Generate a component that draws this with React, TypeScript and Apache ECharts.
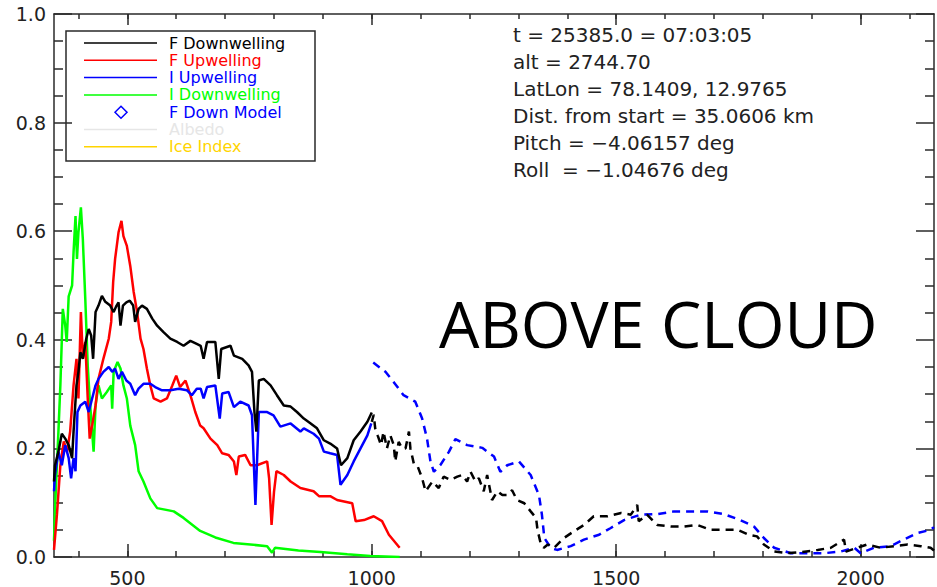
import React, { useEffect, useRef } from "react";
import * as echarts from "echarts";

// ---------- data ----------
const fDownwelling: [number, number][] = [
  [350,0.139],[352,0.169],[359,0.194],[366,0.227],[373,0.218],[380,0.206],[387,0.182],[390,0.231],[396,0.316],[400,0.341],
  [404,0.377],[409,0.365],[416,0.402],[421,0.42],[426,0.408],[430,0.365],[435,0.451],[441,0.463],[448,0.481],[455,0.47],
  [465,0.463],[472,0.451],[478,0.463],[482,0.469],[486,0.426],[491,0.463],[498,0.469],[505,0.472],[512,0.463],[516,0.433],
  [523,0.457],[530,0.463],[540,0.457],[551,0.439],[561,0.426],[574,0.414],[588,0.402],[602,0.396],[615,0.389],[629,0.398],
  [643,0.392],[650,0.389],[656,0.365],[663,0.396],[680,0.396],[687,0.328],[692,0.383],[711,0.389],[718,0.371],[735,0.365],
  [748,0.353],[755,0.341],[760,0.267],[764,0.231],[769,0.325],[779,0.328],[793,0.316],[806,0.298],[820,0.279],[834,0.277],
  [847,0.267],[861,0.255],[875,0.246],[888,0.237],[902,0.215],[915,0.209],[929,0.2],[937,0.169],[950,0.182],[963,0.215],
  [977,0.231],[991,0.249],[1000,0.266]
];
const fDownwellingNir: [number, number][] = [
  [1000,0.249],[1004,0.262],[1007,0.237],[1012,0.224],[1019,0.206],[1024,0.231],[1031,0.2],[1038,0.224],[1045,0.206],[1048,0.176],
  [1055,0.212],[1062,0.2],[1069,0.2],[1076,0.231],[1079,0.2],[1086,0.172],[1093,0.169],[1103,0.145],[1110,0.121],[1124,0.139],
  [1137,0.127],[1147,0.148],[1161,0.142],[1175,0.148],[1185,0.151],[1195,0.139],[1202,0.157],[1212,0.139],[1219,0.145],[1229,0.121],
  [1236,0.151],[1246,0.105],[1257,0.121],[1267,0.114],[1277,0.114],[1287,0.123],[1297,0.105],[1312,0.099],[1325,0.084],[1336,0.072],
  [1339,0.05],[1346,0.023],[1352,0.017],[1360,0.023],[1373,0.017],[1393,0.035],[1413,0.047],[1434,0.059],[1454,0.075],[1482,0.075],
  [1510,0.081],[1530,0.078],[1543,0.096],[1546,0.066],[1563,0.078],[1584,0.059],[1612,0.056],[1638,0.056],[1666,0.059],[1693,0.05],
  [1720,0.05],[1748,0.05],[1771,0.041],[1788,0.038],[1802,0.023],[1823,0.01],[1850,0.007],[1878,0.009],[1912,0.013],[1939,0.017],
  [1966,0.032],[1970,0.01],[2013,0.023],[2041,0.017],[2068,0.02],[2096,0.023],[2123,0.02],[2143,0.017],[2150,0.012]
];
const fUpwelling: [number, number][] = [
  [350,0.013],[356,0.078],[363,0.169],[370,0.213],[377,0.194],[383,0.231],[390,0.316],[396,0.365],[400,0.292],[405,0.451],
  [409,0.365],[414,0.396],[419,0.292],[423,0.218],[428,0.242],[435,0.279],[441,0.328],[451,0.365],[462,0.402],[467,0.433],
  [471,0.506],[475,0.549],[482,0.598],[488,0.619],[492,0.591],[499,0.573],[506,0.536],[513,0.488],[520,0.451],[527,0.402],
  [533,0.383],[540,0.347],[547,0.316],[554,0.292],[568,0.286],[581,0.292],[592,0.316],[600,0.334],[608,0.313],[619,0.325],
  [629,0.298],[639,0.267],[649,0.242],[656,0.237],[670,0.218],[684,0.206],[694,0.191],[707,0.188],[718,0.176],[723,0.151],
  [728,0.185],[741,0.188],[752,0.169],[765,0.169],[786,0.176],[790,0.145],[795,0.059],[800,0.12],[805,0.158],[820,0.151],
  [834,0.139],[854,0.127],[881,0.121],[892,0.112],[915,0.112],[929,0.105],[960,0.099],[967,0.066],[984,0.068],[1004,0.075],
  [1021,0.066],[1035,0.041],[1057,0.017]
];
const iUpwelling: [number, number][] = [
  [350,0.121],[352,0.151],[359,0.194],[366,0.169],[373,0.206],[380,0.182],[385,0.145],[390,0.182],[394,0.158],[398,0.267],
  [404,0.279],[414,0.286],[421,0.267],[428,0.292],[435,0.316],[441,0.328],[451,0.341],[462,0.35],[469,0.341],[475,0.347],
  [482,0.328],[489,0.341],[498,0.325],[506,0.319],[516,0.298],[523,0.31],[533,0.319],[547,0.319],[557,0.313],[571,0.307],
  [588,0.307],[605,0.31],[622,0.307],[632,0.298],[642,0.31],[650,0.31],[656,0.292],[663,0.313],[680,0.316],[689,0.255],
  [694,0.301],[707,0.304],[718,0.276],[731,0.286],[748,0.279],[755,0.261],[762,0.096],[769,0.267],[786,0.267],[799,0.261],
  [813,0.24],[834,0.246],[854,0.231],[861,0.237],[881,0.227],[892,0.218],[902,0.194],[915,0.191],[929,0.188],[936,0.133],
  [950,0.151],[963,0.176],[977,0.2],[991,0.224],[999,0.246]
];
const iUpwellingNir: [number, number][] = [
  [1003,0.358],[1028,0.341],[1045,0.322],[1065,0.298],[1089,0.286],[1103,0.255],[1113,0.218],[1120,0.176],[1127,0.157],[1140,0.169],
  [1158,0.194],[1171,0.217],[1195,0.206],[1226,0.201],[1250,0.185],[1263,0.157],[1277,0.169],[1301,0.176],[1325,0.151],[1342,0.114],
  [1348,0.078],[1353,0.035],[1366,0.017],[1379,0.013],[1407,0.02],[1434,0.032],[1465,0.041],[1488,0.053],[1516,0.068],[1550,0.078],
  [1584,0.079],[1618,0.084],[1652,0.084],[1686,0.084],[1720,0.079],[1754,0.068],[1782,0.056],[1802,0.035],[1823,0.017],[1857,0.007],
  [1891,0.007],[1925,0.007],[1959,0.01],[1987,0.017],[2000,0.007],[2027,0.017],[2061,0.02],[2088,0.032],[2116,0.044],[2143,0.05],
  [2150,0.055]
];
const iDownwelling: [number, number][] = [
  [350,0.03],[353,0.108],[359,0.23],[363,0.316],[366,0.4],[368,0.457],[373,0.426],[376,0.396],[380,0.48],[387,0.5],
  [390,0.561],[394,0.628],[397,0.549],[400,0.598],[405,0.644],[409,0.585],[414,0.475],[419,0.352],[423,0.292],[428,0.231],
  [431,0.194],[435,0.279],[441,0.316],[448,0.292],[458,0.304],[467,0.316],[469,0.273],[472,0.341],[480,0.359],[486,0.347],
  [492,0.316],[499,0.292],[506,0.242],[516,0.206],[523,0.158],[533,0.139],[547,0.108],[561,0.09],[595,0.084],[615,0.072],
  [649,0.048],[680,0.036],[717,0.026],[786,0.02],[796,0.008],[802,0.017],[850,0.012],[895,0.009],[950,0.005],[997,0.002],
  [1057,0.0]
];

const legendNames = ["F Downwelling", "F Upwelling", "I Upwelling", "I Downwelling", "F Down Model", "Albedo", "Ice Index"];
const legendColors = ["#000000", "#ff0000", "#0000ff", "#00ff00", "#0000ff", "#e6e6e6", "#ffd400"];
const infoLines = [
  "t = 25385.0 = 07:03:05",
  "alt = 2744.70",
  "LatLon = 78.1409, 12.9765",
  "Dist. from start = 35.0606 km",
  "Pitch = −4.06157 deg",
  "Roll  = −1.04676 deg",
];
const xMajor = [500, 1000, 1500, 2000];
const xMinor = [400, 500, 600, 700, 800, 900, 1000, 1100, 1200, 1300, 1400, 1500, 1600, 1700, 1800, 1900, 2000, 2100];
const stampText = "ABOVE CLOUD";

const FONT = "DejaVu Sans";
const AX = "#2a2a2a";

export default function App() {
  const ref = useRef<HTMLDivElement>(null);
  useEffect(() => {
    if (!ref.current) return;
    const chart = echarts.init(ref.current, null, { renderer: "svg" });

    const xBase = { type: "value", min: 350, max: 2150, splitLine: { show: false }, gridIndex: 0 };
    const xAxes = [
      {
        ...xBase, position: "bottom",
        axisLine: { show: true, lineStyle: { color: AX, width: 1.5 } },
        axisTick: { show: true, inside: true, length: 13, customValues: xMajor, lineStyle: { color: AX, width: 1.5 } },
        axisLabel: {
          show: true, customValues: xMajor, margin: 11, fontFamily: FONT, fontSize: 19, color: "#222",
          formatter: (v: number) => String(v),
        },
      },
      {
        ...xBase, position: "bottom",
        axisLine: { show: false },
        axisTick: { show: true, inside: true, length: 6, customValues: xMinor, lineStyle: { color: AX, width: 1.5 } },
        axisLabel: { show: false },
      },
      {
        ...xBase, position: "top",
        axisLine: { show: true, lineStyle: { color: AX, width: 1.5 } },
        axisTick: { show: true, inside: true, length: 11, customValues: xMajor, lineStyle: { color: AX, width: 1.5 } },
        axisLabel: { show: false },
      },
      {
        ...xBase, position: "top",
        axisLine: { show: false },
        axisTick: { show: true, inside: true, length: 5, customValues: xMinor, lineStyle: { color: AX, width: 1.5 } },
        axisLabel: { show: false },
      },
    ];
    const yBase = {
      type: "value", min: 0, max: 1, interval: 0.2, splitLine: { show: false },
      axisLine: { show: true, lineStyle: { color: AX, width: 1.5 } },
      axisTick: { show: true, inside: true, length: 18, lineStyle: { color: AX, width: 1.5 } },
      minorTick: { show: true, splitNumber: 4, length: 9, lineStyle: { color: AX, width: 1.5 } },
    };
    const yAxes = [
      {
        ...yBase, position: "left",
        axisLabel: { show: true, margin: 8, fontFamily: FONT, fontSize: 19, color: "#222", formatter: (v: number) => v.toFixed(1) },
      },
      { ...yBase, position: "right", axisLabel: { show: false } },
    ];

    const line = (name: string, data: [number, number][], color: string, dashed = false) => ({
      name, type: "line", data, xAxisIndex: 0, yAxisIndex: 0, showSymbol: false, symbol: "none",
      lineStyle: { color, width: 2.5, type: dashed ? [8, 6] : "solid" },
      itemStyle: { color }, z: 3,
    });

    const graphics: any[] = [];
    graphics.push({
      type: "rect", shape: { x: 66, y: 31, width: 249, height: 130 },
      style: { fill: "none", stroke: AX, lineWidth: 1.5 }, z: 10,
    });
    legendNames.forEach((nm, i) => {
      const cy = 43 + i * 17.3;
      if (nm === "F Down Model") {
        graphics.push({
          type: "polygon", shape: { points: [[121, cy - 6], [127, cy], [121, cy + 6], [115, cy]] },
          style: { fill: "none", stroke: legendColors[i], lineWidth: 1.5 }, z: 10,
        });
      } else {
        graphics.push({
          type: "line", shape: { x1: 84, y1: cy, x2: 157, y2: cy },
          style: { stroke: legendColors[i], lineWidth: 1.5 }, z: 10,
        });
      }
      graphics.push({
        type: "text", x: 169, y: cy,
        style: {
          text: nm, fill: legendColors[i], fontFamily: FONT, fontSize: 16, lineHeight: 16,
          verticalAlign: "middle", align: "left",
        }, z: 10,
      });
    });
    infoLines.forEach((t, i) => {
      graphics.push({
        type: "text", x: 513, y: 35 + i * 27,
        style: { text: t, fill: "#222", fontFamily: FONT, fontSize: 20, lineHeight: 22, verticalAlign: "middle", align: "left" }, z: 10,
      });
    });
    graphics.push({
      type: "text", x: 439, y: 323,
      style: { text: stampText, fill: "#000", fontFamily: "Open Sans", fontSize: 64, verticalAlign: "middle", align: "left" }, z: 10,
    });

    chart.setOption({
      animation: false,
      backgroundColor: "#ffffff",
      grid: { left: 54, right: 3, top: 14, bottom: 28, containLabel: false },
      xAxis: xAxes,
      yAxis: yAxes,
      series: [
        line("I Downwelling", iDownwelling, "#00ff00"),
        line("F Upwelling", fUpwelling, "#ff0000"),
        line("I Upwelling", iUpwelling, "#0000ff"),
        line("F Downwelling", fDownwelling, "#000000"),
        line("I Upwelling NIR", iUpwellingNir, "#0000ff", true),
        line("F Downwelling NIR", fDownwellingNir, "#000000", true),
      ],
      graphic: graphics,
    } as any);
    return () => chart.dispose();
  }, []);
  return <div ref={ref} style={{ position: "absolute", left: 0, top: 0, width: 937, height: 587 }} />;
}
